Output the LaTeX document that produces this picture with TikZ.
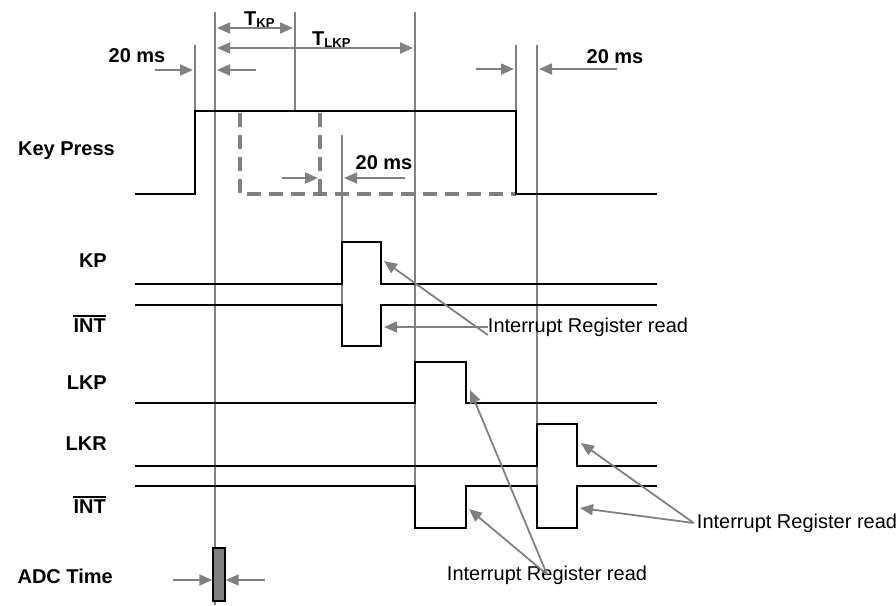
\documentclass[tikz,border=0pt]{standalone}
\usepackage{fontspec}
\setmainfont{Liberation Sans}
\usetikzlibrary{arrows.meta}
\definecolor{gcol}{RGB}{128,128,128}
\begin{document}
\begin{tikzpicture}[x=1pt,y=-1pt,
  sig/.style={line width=2.6pt, draw=black, line join=miter},
  guide/.style={line width=1.3pt, draw=gcol},
  garrow/.style={line width=1.8pt, draw=gcol, -{Triangle[length=13pt,width=11pt]}},
  gdarrow/.style={line width=1.8pt, draw=gcol, {Triangle[length=13pt,width=11pt]}-{Triangle[length=13pt,width=11pt]}},
  dashbox/.style={line width=3.2pt, draw=gcol, dash pattern=on 14pt off 8pt},
  lbl/.style={font=\fontsize{20}{24}\selectfont\bfseries, inner sep=0pt},
  ovl/.style={line width=1.8pt, draw=black},
  note/.style={font=\fontsize{20}{24}\selectfont, inner sep=0pt}]
\useasboundingbox (0,0) rectangle (896,605);

% guide lines
\draw[guide] (195,45) -- (195,110);
\draw[guide] (215,12) -- (215,605);
\draw[guide] (295,12) -- (295,110);
\draw[guide] (342,135) -- (342,346);
\draw[guide] (415,12) -- (415,528);
\draw[guide] (516,45) -- (516,193);
\draw[guide] (537,45) -- (537,528);

% dashed alternative key press
\draw[dashbox] (240,113) -- (240,194) -- (516,194);
\draw[dashbox] (320,113) -- (320,194);

% signals
\draw[sig] (135,194) -- (195,194) -- (195,111) -- (516,111) -- (516,194) -- (657,194);
\draw[sig] (135,284) -- (342,284) -- (342,242) -- (381,242) -- (381,284) -- (657,284);
\draw[sig] (135,305) -- (342,305) -- (342,346) -- (381,346) -- (381,305) -- (657,305);
\draw[sig] (135,403) -- (415,403) -- (415,362) -- (466,362) -- (466,403) -- (657,403);
\draw[sig] (135,466) -- (537,466) -- (537,424) -- (577,424) -- (577,466) -- (657,466);
\draw[sig] (135,486) -- (415,486) -- (415,528) -- (466,528) -- (466,486) -- (537,486) -- (537,528) -- (577,528) -- (577,486) -- (657,486);

% ADC box
\node[draw=black, fill=gcol, line width=1.3pt, minimum width=12pt, minimum height=53pt, inner sep=0pt] (adc) at (219,574.5) {};

% timing arrows
\coordinate (a1s) at (155,70); \coordinate (a1e) at (193,70);
\coordinate (a2s) at (256,70); \coordinate (a2e) at (217,70);
\draw[garrow] (a1s) -- (a1e);
\draw[garrow] (a2s) -- (a2e);
\coordinate (k1) at (217,28); \coordinate (k2) at (293,28);
\draw[gdarrow] (k1) -- (k2);
\coordinate (l1) at (217,48); \coordinate (l2) at (413,48);
\draw[gdarrow] (l1) -- (l2);
\coordinate (b1s) at (476,69); \coordinate (b1e) at (514,69);
\coordinate (b2s) at (617,69); \coordinate (b2e) at (539,69);
\draw[garrow] (b1s) -- (b1e);
\draw[garrow] (b2s) -- (b2e);
\coordinate (c1s) at (282,178); \coordinate (c1e) at (318,178);
\coordinate (c2s) at (405,178); \coordinate (c2e) at (344,178);
\draw[garrow] (c1s) -- (c1e);
\draw[garrow] (c2s) -- (c2e);
\coordinate (d1s) at (173,580);
\coordinate (d2s) at (265,580);
\draw[garrow] (d1s) -- (adc.west|-d1s);
\draw[garrow] (d2s) -- (adc.east|-d2s);

% timing labels
\node[lbl] (t20a) at (137,56) {20 ms};
\node[lbl] (t20b) at (615,57) {20 ms};
\node[lbl] (t20c) at (384,163) {20 ms};
\node[lbl, anchor=base west] (tkp) at (244,25) {T\raisebox{-2pt}{\fontsize{13}{13}\selectfont KP}};
\node[lbl, anchor=base west] (tlkp) at (312,45) {T\raisebox{-2pt}{\fontsize{13}{13}\selectfont LKP}};

% signal labels
\node[lbl, anchor=east] (nkey) at (115,151) {Key Press};
\node[lbl, anchor=east] (nkp) at (107,261) {KP};
\node[lbl, anchor=east] (nint1) at (106,326) {INT};
\draw[ovl] ([yshift=3pt]nint1.north west) -- ([yshift=3pt]nint1.north east);
\node[lbl, anchor=east] (nlkp) at (107,383) {LKP};
\node[lbl, anchor=east] (nlkr) at (107,444) {LKR};
\node[lbl, anchor=east] (nint2) at (106,507) {INT};
\draw[ovl] ([yshift=3pt]nint2.north west) -- ([yshift=3pt]nint2.north east);
\node[lbl, anchor=east] (nadc) at (113,576) {ADC Time};

% notes
\node[note] (irA) at (588,327) {Interrupt Register read};
\node[note] (irB) at (547,575) {Interrupt Register read};
\node[note] (irC) at (797,523) {Interrupt Register read};

\coordinate (pA1) at (384,261);
\coordinate (pA2) at (384,327);
\draw[garrow] ([yshift=-8pt]irA.west) -- (pA1);
\draw[garrow] (irA.west) -- (pA2);

\coordinate (pB1) at (470,390);
\coordinate (pB2) at (469,509);
\draw[garrow] ([yshift=-9pt]irB.north) -- (pB1);
\draw[garrow] ([yshift=-9pt]irB.north) -- (pB2);

\coordinate (pC1) at (581,443);
\coordinate (pC2) at (580,508);
\draw[garrow] ([xshift=-3pt]irC.west) -- (pC1);
\draw[garrow] ([xshift=-3pt]irC.west) -- (pC2);
\end{tikzpicture}
\end{document}
